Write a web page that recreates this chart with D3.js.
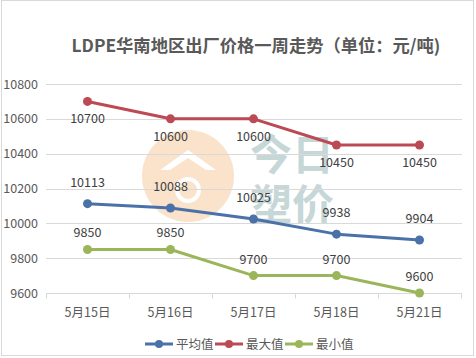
<!DOCTYPE html>
<html><head><meta charset="utf-8">
<script src="https://cdn.jsdelivr.net/npm/d3@7"></script>
<style>html,body{margin:0;padding:0;background:#fff;}svg{display:block;}</style>
</head><body>
<svg id="chart" width="476" height="358"></svg>
<script>
const categories = ["5月15日","5月16日","5月17日","5月18日","5月21日"];
const avgValues = [10113,10088,10025,9938,9904];
const maxValues = [10700,10600,10600,10450,10450];
const minValues = [9850,9850,9700,9700,9600];
const yTicks = [9600,9800,10000,10200,10400,10600,10800];
const seriesNames = ["平均值","最大值","最小值"];
const title = "LDPE华南地区出厂价格一周走势（单位：元/吨)";

const font = "'Microsoft YaHei','Noto Sans CJK SC','DejaVu Sans',sans-serif";
const svg = d3.select("#chart");
svg.append("rect").attr("x",1.5).attr("y",0.5).attr("width",472).attr("height",355)
  .attr("fill","#fff").attr("stroke","#d9d9d9");

const x = d3.scaleBand().domain(categories).range([46,461]);
const y = d3.scaleLinear().domain([9600,10800]).range([293,84]);

// watermark
const wm = svg.append("g").attr("opacity",0.5);
wm.append("circle").attr("cx",188).attr("cy",176).attr("r",46).attr("fill","#f7c896");
wm.append("path").attr("d","M160,170 L188,150 L216,170 L206,170 L188,158 L170,170 Z").attr("fill","#fff");
wm.append("circle").attr("cx",188).attr("cy",190).attr("r",11).attr("fill","none").attr("stroke","#fff").attr("stroke-width",4);
wm.append("text").attr("x",292).attr("y",170).attr("text-anchor","middle").attr("font-family",font)
  .attr("font-size",42).attr("font-weight","bold").attr("fill","#8fb0b0").text("今日");
wm.append("text").attr("x",292).attr("y",220).attr("text-anchor","middle").attr("font-family",font)
  .attr("font-size",42).attr("font-weight","bold").attr("fill","#8fb0b0").text("塑价");

// grid
svg.append("g").selectAll("line").data(yTicks.filter(d=>d>9600)).join("line")
  .attr("x1",46).attr("x2",462).attr("y1",d=>Math.round(y(d))+0.5).attr("y2",d=>Math.round(y(d))+0.5)
  .attr("stroke","#d9d9d9");

// y axis labels
const yAxis = svg.append("g").attr("transform","translate(38,0)")
  .call(d3.axisLeft(y).tickValues(yTicks).tickFormat(d3.format("d")).tickSize(0).tickPadding(0));
yAxis.select(".domain").remove();
yAxis.selectAll("text").attr("font-family",font).attr("font-size",12.5).attr("fill","#595959");

// x axis
const xAxis = svg.append("g").attr("transform","translate(0,293.5)")
  .call(d3.axisBottom(x).tickSize(0).tickPadding(15));
xAxis.select(".domain").attr("stroke","#d9d9d9").attr("d","M46,0H462");
xAxis.selectAll("text").attr("font-family",font).attr("font-size",12.5).attr("fill","#595959");
const bounds = categories.map(c=>x(c)).concat([x.range()[1]]);
xAxis.append("g").selectAll("line").data(bounds).join("line")
  .attr("x1",d=>Math.round(d)+0.5).attr("x2",d=>Math.round(d)+0.5).attr("y1",0).attr("y2",5).attr("stroke","#d9d9d9");

// title
svg.append("text").attr("x",256).attr("y",52).attr("text-anchor","middle")
  .attr("font-family",font).attr("font-size",17.3).attr("font-weight","bold").attr("fill","#595959").text(title);

const series = [
  {name:seriesNames[0], values:avgValues, color:"#4a72a8", dy:-17},
  {name:seriesNames[1], values:maxValues, color:"#bb4a54", dy:22},
  {name:seriesNames[2], values:minValues, color:"#9bb65a", dy:-12}
];
const cx = c => x(c) + x.bandwidth()/2;
const line = d3.line().x(d=>cx(d.c)).y(d=>y(d.v));
series.forEach(s=>{
  const pts = categories.map((c,i)=>({c, v:s.values[i]}));
  const g = svg.append("g");
  g.append("path").datum(pts).attr("d",line).attr("fill","none").attr("stroke",s.color).attr("stroke-width",3).attr("stroke-linejoin","round");
  g.selectAll("circle").data(pts).join("circle").attr("cx",d=>cx(d.c)).attr("cy",d=>y(d.v)).attr("r",4.5).attr("fill",s.color);
  g.selectAll("text").data(pts).join("text").attr("x",d=>cx(d.c)).attr("y",d=>y(d.v)+s.dy)
    .attr("text-anchor","middle").attr("font-family",font).attr("font-size",12.5).attr("fill","#404040").text(d=>d.v);
});

// legend
const legX = [145,215,285];
const lg = svg.append("g");
series.forEach((s,i)=>{
  const g = lg.append("g").attr("transform",`translate(${legX[i]},344)`);
  g.append("line").attr("x1",0).attr("x2",28).attr("stroke",s.color).attr("stroke-width",3);
  g.append("circle").attr("cx",14).attr("r",4).attr("fill",s.color);
  g.append("text").attr("x",31).attr("y",5).attr("font-family",font).attr("font-size",12.5).attr("fill","#595959").text(s.name);
});
</script>
</body></html>
